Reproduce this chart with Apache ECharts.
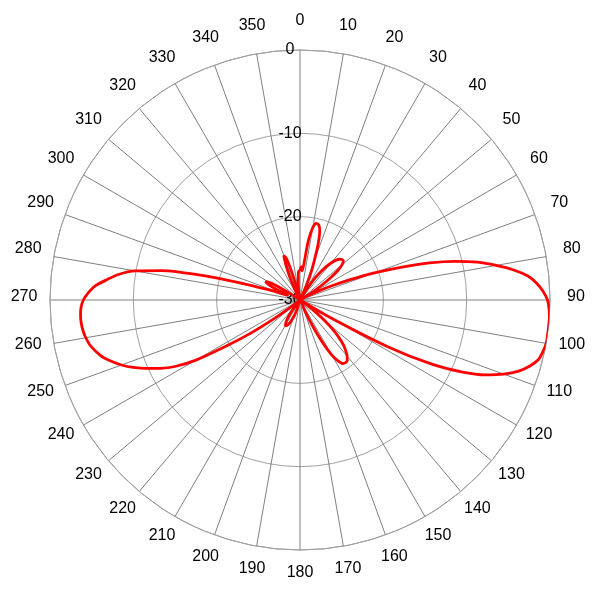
<!DOCTYPE html>
<html>
<head>
<meta charset="utf-8">
<script src="https://cdn.jsdelivr.net/npm/echarts@6/dist/echarts.min.js"></script>
<style>
html,body{margin:0;padding:0;background:#fff;}
#chart{width:600px;height:600px;}
</style>
</head>
<body>
<div id="chart"></div>
<script>
// Sample angles (degrees, clockwise from top)
const angles = [
  0,2,4,6,8,10,12,14,16,18,20,22,24,26,28,30,32,34,36,38,
  40,42,44,46,48,50,52,54,56,58,60,62,64,66,68,70,72,74,76,78,
  80,82,84,86,88,90,92,94,96,98,100,102,104,106,108,110,112,114,116,118,
  120,122,124,126,128,130,132,134,136,138,140,142,144,146,148,150,152,154,156,158,
  160,162,164,166,168,170,172,174,176,178,180,182,184,186,188,190,192,194,196,198,
  200,202,204,206,208,210,212,214,216,218,220,222,224,226,228,230,232,234,236,238,
  240,242,244,246,248,250,252,254,256,258,260,262,264,266,268,270,272,274,276,278,
  280,282,284,286,288,290,292,294,296,298,300,302,304,306,308,310,312,314,316,318,
  320,322,324,326,328,330,332,334,336,338,340,342,344,346,348,350,352,354,356,358,360
];
// Gain in dB for each angle
const gains = [
  -26.5,-26.0,-26.5,-25.8,-22.8,-21.2,-20.6,-20.7,-21.4,-23,-25,-26.5,-28,-29.5,-30,-29.5,-28.5,-27,-26,-25,
  -24.2,-23.6,-23.2,-23.0,-23.0,-23.4,-24.2,-25.5,-27,-28.5,-30,-29,-27.5,-25.8,-23.5,-20.5,-17.3,-13.8,-10.8,-8.2,
  -6.1,-4.1,-2.5,-1.5,-0.8,-0.3,-0.1,0,0,0,0,-0.2,-0.5,-1.3,-2.4,-4,-6,-8.8,-12.5,-18,
  -25.5,-30,-30,-29,-27.5,-26,-24.6,-23.5,-22.5,-21.8,-21.2,-20.8,-20.7,-20.8,-21.4,-22.4,-24.2,-26.5,-28.5,-30,
  -30,-30,-30,-30,-30,-30,-30,-30,-30,-30,-30,-30,-30,-30,-30,-30,-30,-30,-30,-29,
  -28,-27.5,-27,-26.7,-26.5,-26.5,-26.8,-27.3,-28,-29,-30,-30,-30,-30,-30,-30,-29,-26.5,-23,-19.5,
  -15.5,-13,-11.3,-9.8,-8.4,-7.2,-6.2,-5.3,-4.7,-4.2,-3.9,-3.7,-3.6,-3.6,-3.7,-4.0,-4.6,-5.4,-6.7,-8.0,
  -9.9,-13,-17.5,-22.5,-26,-28,-28.5,-27,-25.8,-25.3,-25.8,-27.5,-29,-30,-30,-30,-30,-30,-30,-30,
  -30,-30,-30,-30,-30,-30,-29.5,-28.5,-27,-25.5,-24.3,-24.8,-27,-29,-30,-30,-29,-28,-27,-26.5,-26.5
];
// Angle tick labels
const angleTicks = [0,10,20,30,40,50,60,70,80,90,100,110,120,130,140,150,160,170,
  180,190,200,210,220,230,240,250,260,270,280,290,300,310,320,330,340,350];
const radiusMin = -30;
const radiusMax = 0;
const radiusStep = 10;
const angleStep = 10;

const chart = echarts.init(document.getElementById('chart'), null, {renderer: 'canvas'});
const data = angles.map((a, i) => [gains[i], a]);
const labelData = angleTicks.map(a => [1, a]);
const font = 'Liberation Sans, Arial, sans-serif';
chart.setOption({
  animation: false,
  backgroundColor: '#ffffff',
  polar: [
    { center: [300, 300], radius: 250 },
    { center: [300, 297], radius: 276 }
  ],
  angleAxis: [{
    polarIndex: 0,
    type: 'value',
    min: 0, max: 360, interval: angleStep,
    startAngle: 90, clockwise: true,
    axisLine: { show: true, lineStyle: { color: '#a0a0a0', width: 1 } },
    axisTick: { show: false },
    axisLabel: { show: false },
    splitLine: { show: true, lineStyle: { color: '#808080', width: 1 } }
  }, {
    polarIndex: 1,
    type: 'value',
    min: 0, max: 360, interval: angleStep,
    startAngle: 90, clockwise: true,
    axisLine: { show: false },
    axisTick: { show: false },
    axisLabel: { show: false },
    splitLine: { show: false }
  }],
  radiusAxis: [{
    polarIndex: 0,
    type: 'value',
    min: radiusMin, max: radiusMax, interval: radiusStep,
    axisLine: { show: false },
    axisTick: { show: false },
    axisLabel: {
      show: true, margin: 10, align: 'center', verticalAlign: 'middle', color: '#000',
      fontFamily: font, fontSize: 16
    },
    splitLine: { show: true, lineStyle: { color: '#a0a0a0', width: 1 } }
  }, {
    polarIndex: 1,
    type: 'value',
    min: 0, max: 1,
    axisLine: { show: false },
    axisTick: { show: false },
    axisLabel: { show: false },
    splitLine: { show: false }
  }],
  series: [{
    type: 'line',
    coordinateSystem: 'polar',
    polarIndex: 0,
    data: data,
    showSymbol: false,
    symbol: 'none',
    smooth: 0.25,
    lineStyle: { color: '#ff0000', width: 2.8 },
    z: 3
  }, {
    type: 'scatter',
    coordinateSystem: 'polar',
    polarIndex: 1,
    data: labelData,
    symbolSize: 1,
    itemStyle: { color: '#ffffff', opacity: 1 },
    silent: true,
    label: {
      show: true,
      position: 'inside',
      color: '#000000',
      opacity: 1,
      textBorderWidth: 0,
      fontFamily: font,
      fontSize: 16,
      formatter: p => String(p.value[1])
    },
    labelLayout: { hideOverlap: false }
  }]
});
</script>
</body>
</html>
